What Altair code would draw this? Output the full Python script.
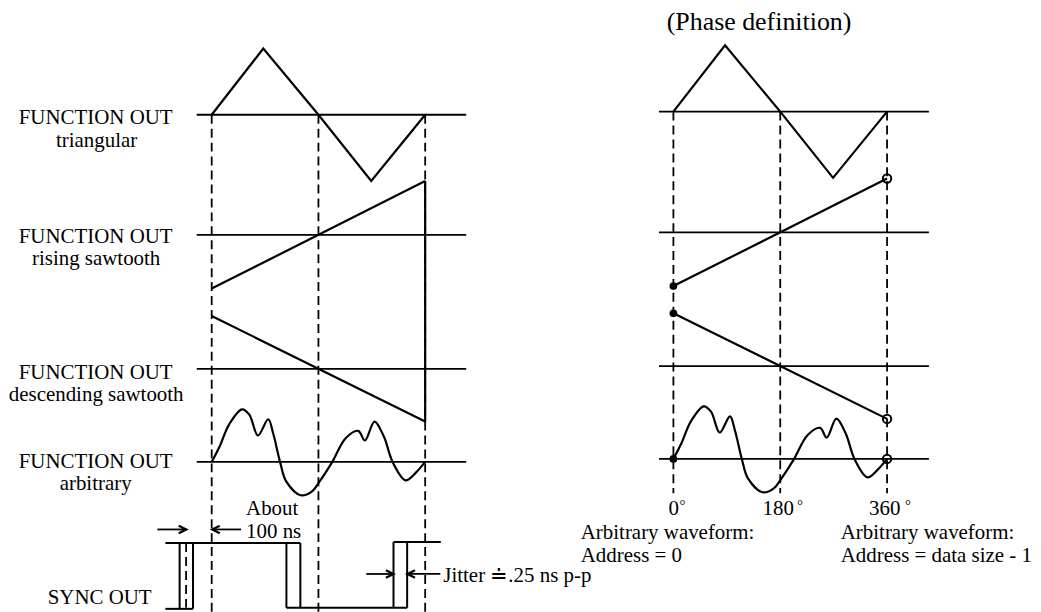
import altair as alt
import pandas as pd

# ---------------- waveform data (phase in degrees, level in px above the baseline)
TRI_PHASE = [0, 87, 180, 269, 360]
TRI_LEVEL = [0, 66.5, 0, -66.5, 0]
RISE_PHASE = [0, 360]
RISE_LEVEL = [-54, 54]
DESC_PHASE = [0, 360]
DESC_LEVEL = [53, -53]
ARB_PHASE = [0, 12.9, 29.7, 51.1, 63.4, 78.0, 95.3, 103.7, 115.5, 125.6, 150.3,
             169.2, 181.0, 202.9, 225.9, 247.1, 258.3, 274.6, 290.3, 305.4,
             326.7, 343.5, 360]
ARB_LEVEL = [0, 15, 38, 52.8, 47.5, 26.5, 42.8, 28.5, -0.5, -19.5, -33.5,
             -29.5, -20.5, -0.5, 23.8, 31.2, 21.5, 40.5, 25.5, -0.5,
             -18.5, -11.2, 0]

# ---------------- diagram layout
LEFT = dict(x0=211.5, x360=425.8, xa=196.5, xb=467, dash_top=112, dash_bot=612,
            base=dict(tri=112, rise=232.5, desc=367, arb=460.5))
RIGHT = dict(x0=675, x360=889.5, xa=660.5, xb=931.5, dash_top=108.8, dash_bot=492,
             base=dict(tri=108.8, rise=230, desc=364.3, arb=457.5))

WAVES = dict(tri=(TRI_PHASE, TRI_LEVEL), rise=(RISE_PHASE, RISE_LEVEL),
             desc=(DESC_PHASE, DESC_LEVEL), arb=(ARB_PHASE, ARB_LEVEL))

# SYNC OUT trace segments (x1, y1, x2, y2)
SYNC_SEGMENTS = [
    (165, 542, 300.5, 542), (165, 608, 192.7, 608),
    (179.3, 542, 179.3, 608), (192.7, 542, 192.7, 608),
    (286.5, 542, 286.5, 607), (300.5, 542, 300.5, 607),
    (286.5, 607, 407.7, 607), (394, 607, 394, 541),
    (407.7, 607, 407.7, 541), (394, 541, 441.5, 541),
]
SYNC_DASH = [(185.8, 542, 185.8, 608)]

# arrows: (tail_x, tip_x, y)
ARROWS = [(157, 186, 528.3), (241, 212, 528.3), (366.7, 394, 573), (441, 408, 573)]

TEXT_CENTER = [
    ("FUNCTION OUT", 95, 121.5), ("triangular", 96, 144),
    ("FUNCTION OUT", 95, 240.5), ("rising sawtooth", 95.5, 263.3),
    ("FUNCTION OUT", 95, 377), ("descending sawtooth", 95.5, 399.5),
    ("FUNCTION OUT", 95, 467), ("arbitrary", 95, 489),
    ("SYNC OUT", 99, 603.5),
    ("0", 675.3, 514), ("180", 780.3, 514), ("360", 887.2, 514),
]
TEXT_LEFT = [
    ("About", 246, 513.5), ("100 ns", 246, 536.8),
    ("Jitter \u2250.25 ns p-p", 444, 581.5),
    ("Arbitrary waveform:", 582, 537.5), ("Address = 0", 582, 561),
    ("Arbitrary waveform:", 843, 537.5), ("Address = data size - 1", 843, 561),
]
DEG_RINGS = [(684, 509), (802, 509), (910.5, 509)]
TITLE = [("(Phase definition)", 761, 27)]


def px(panel, ph):
    return panel["x0"] + (panel["x360"] - panel["x0"]) * ph / 360.0


lin_rows, arb_rows, base_rows, dash_rows = [], [], [], []
dot_rows, ring_rows = [], []
for pname, panel in (("L", LEFT), ("R", RIGHT)):
    for w, (phs, lvs) in WAVES.items():
        b = panel["base"][w]
        base_rows.append(dict(x=panel["xa"], y=b, x2=panel["xb"], y2=b))
        for i, (p, l) in enumerate(zip(phs, lvs)):
            row = dict(id=pname + w, ord=i, x=px(panel, p), y=b - l)
            (arb_rows if w == "arb" else lin_rows).append(row)
        if pname == "R" and w != "tri":
            dot_rows.append(dict(x=px(panel, phs[0]), y=b - lvs[0]))
            ring_rows.append(dict(x=px(panel, phs[-1]), y=b - lvs[-1]))
    for p in (0, 180, 360):
        dash_rows.append(dict(x=px(panel, p), y=panel["dash_top"],
                              x2=px(panel, p), y2=panel["dash_bot"]))

# reset edge of the sawtooth traces (left side)
lb = LEFT["base"]
reset = [dict(x=px(LEFT, 360), y=lb["rise"] - RISE_LEVEL[-1],
              x2=px(LEFT, 360), y2=lb["desc"] - DESC_LEVEL[-1])]

for s in SYNC_DASH:
    dash_rows.append(dict(x=s[0], y=s[1], x2=s[2], y2=s[3]))
sync_rows = [dict(x=a, y=b, x2=c, y2=d) for a, b, c, d in SYNC_SEGMENTS]
arrow_line = [dict(x=t, y=y, x2=h, y2=y) for t, h, y in ARROWS]
head_r = [dict(x=h, y=y) for t, h, y in ARROWS if h > t]
head_l = [dict(x=h, y=y) for t, h, y in ARROWS if h < t]

XS = alt.Scale(domain=[8, 1033], nice=False, zero=False)
YS = alt.Scale(domain=[8, 612], nice=False, zero=False, reverse=True)
X = alt.X("x:Q", scale=XS, axis=None)
Y = alt.Y("y:Q", scale=YS, axis=None)


def rules(rows, width, dash=None):
    kw = dict(color="black", strokeWidth=width)
    if dash:
        kw["strokeDash"] = dash
    return alt.Chart(pd.DataFrame(rows)).mark_rule(**kw).encode(
        x=X, y=Y, x2="x2:Q", y2="y2:Q")


def text_layer(rows, align, size):
    df = pd.DataFrame(rows, columns=["t", "x", "y"])
    return alt.Chart(df).mark_text(
        font="Liberation Serif", fontSize=size, align=align,
        baseline="alphabetic", color="black").encode(x=X, y=Y, text="t:N")


layers = [
    rules(base_rows, 1.8),
    rules(dash_rows, 1.8, [9, 5]),
    alt.Chart(pd.DataFrame(lin_rows)).mark_line(color="black", strokeWidth=2.2).encode(
        x=X, y=Y, detail="id:N", order="ord:Q"),
    alt.Chart(pd.DataFrame(arb_rows)).mark_line(
        color="black", strokeWidth=2.2, interpolate="catmull-rom").encode(
        x=X, y=Y, detail="id:N", order="ord:Q"),
    rules(reset, 2.2),
    rules(sync_rows, 2),
    rules(arrow_line, 1.8),
    alt.Chart(pd.DataFrame(head_r)).mark_point(
        shape="M-1,-0.5L0,0L-1,0.5", size=230, filled=False, color="black",
        strokeWidth=2.2, opacity=1).encode(x=X, y=Y),
    alt.Chart(pd.DataFrame(head_l)).mark_point(
        shape="M1,-0.5L0,0L1,0.5", size=230, filled=False, color="black",
        strokeWidth=2.2, opacity=1).encode(x=X, y=Y),
    alt.Chart(pd.DataFrame(dot_rows)).mark_point(
        shape="circle", size=60, filled=True, color="black", opacity=1).encode(x=X, y=Y),
    alt.Chart(pd.DataFrame(ring_rows)).mark_point(
        shape="circle", size=70, filled=False, color="black", strokeWidth=2,
        opacity=1).encode(x=X, y=Y),
    text_layer(TEXT_CENTER, "center", 21),
    text_layer(TEXT_LEFT, "left", 21),
    text_layer([("\u00b0", a, b) for a, b in DEG_RINGS], "center", 15),
    text_layer(TITLE, "center", 26),
]

chart = alt.layer(*layers).properties(
    width=1025, height=604, padding=0, background="white"
).configure_view(stroke=None)

chart.save("out.html", embed_options={"renderer": "svg", "actions": False})
